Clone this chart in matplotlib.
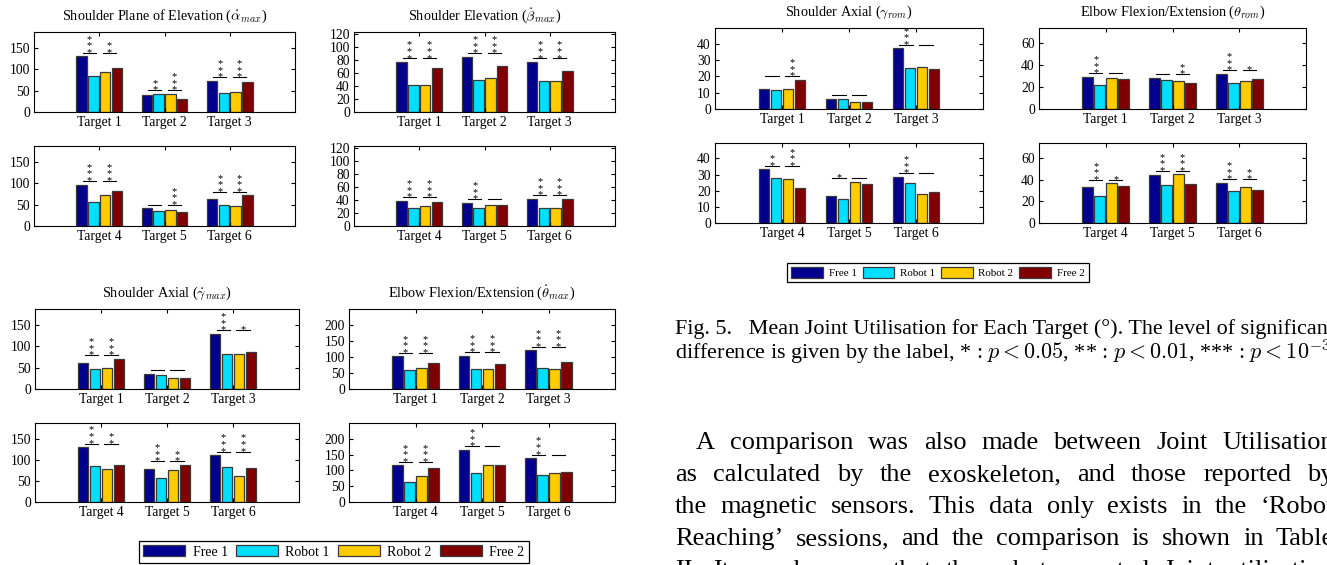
import matplotlib.pyplot as plt
import numpy as np

plt.rcParams['font.family'] = ['Liberation Serif', 'DejaVu Serif']
plt.rcParams['mathtext.fontset'] = 'cm'

W, H = 1327, 565

series = ['Free 1', 'Robot 1', 'Robot 2', 'Free 2']
colors = ['#00008f', '#00dfff', '#ffcc00', '#800000']
targets = ['Target 1', 'Target 2', 'Target 3', 'Target 4', 'Target 5', 'Target 6']

# rows: Free 1, Robot 1, Robot 2, Free 2 ; columns: Target 1..6
plane_elev = [[130, 39, 73, 97, 41, 64],
              [85, 42, 44, 57, 34, 50],
              [93, 43, 47, 72, 38, 47],
              [102, 30, 70, 81, 32, 72]]
plane_elev_sig = [(3, 2), (2, 3), (3, 3), (3, 3), (0, 3), (3, 3)]

elevation = [[77, 85, 77, 39, 36, 41],
             [41, 49, 48, 28, 27, 28],
             [41, 52, 47, 31, 33, 28],
             [68, 70, 63, 37, 32, 42]]
elevation_sig = [(3, 3), (3, 3), (3, 3), (3, 3), (3, 0), (3, 3)]

axial_vel = [[61, 36, 130, 131, 78, 112],
             [48, 33, 83, 86, 56, 84],
             [50, 25, 83, 79, 75, 61],
             [71, 27, 88, 89, 89, 82]]
axial_vel_sig = [(3, 3), (0, 0), (3, 1), (3, 2), (3, 2), (3, 3)]

elbow_vel = [[102, 104, 121, 116, 166, 139],
             [60, 64, 66, 64, 93, 86],
             [65, 62, 62, 83, 117, 91],
             [81, 77, 84, 108, 117, 95]]
elbow_vel_sig = [(3, 3), (3, 3), (3, 3), (3, 3), (3, 0), (3, 0)]

axial_rom = [[12.2, 6.0, 37.1, 33.4, 16.8, 28.8],
             [11.8, 6.2, 25.4, 27.6, 15.0, 25.1],
             [12.4, 4.3, 26.0, 27.0, 25.5, 18.2],
             [18.0, 4.1, 24.7, 21.5, 24.0, 19.1]]
axial_rom_sig = [(0, 3), (0, 0), (3, 0), (2, 3), (1, 0), (3, 0)]

elbow_rom = [[29.4, 28.5, 32.2, 33.1, 44.5, 37.4],
             [21.7, 26.3, 23.8, 24.7, 35.0, 29.7],
             [28.5, 26.0, 25.4, 36.8, 45.2, 33.4],
             [27.0, 23.8, 27.2, 34.0, 36.5, 30.9]]
elbow_rom_sig = [(3, 0), (0, 2), (3, 1), (3, 1), (3, 3), (3, 2)]

caption = [
    'Fig. 5.   Mean Joint Utilisation for Each Target (°). The level of significance of the',
    r'difference is given by the label, * : $p < 0.05$, ** : $p < 0.01$, *** : $p < 10^{-3}$',
]
body = [
    'A comparison was also made between Joint Utilisation',
    'as calculated by the exoskeleton, and those reported by',
    'the magnetic sensors. This data only exists in the \u2018Robot',
    'Reaching\u2019 sessions, and the comparison is shown in Table',
    'II. It can be seen that the robot reported Joint utilisation',
]

fig = plt.figure(figsize=(W / 100, H / 100), dpi=100)


def add_ax(x0, y0, x1, y1):
    return fig.add_axes([x0 / W, 1 - y1 / H, (x1 - x0) / W, (y1 - y0) / H])


def draw(ax, vals, sig, labels, ymax, yticks):
    vals = np.asarray(vals, dtype=float)
    pos = np.arange(1, 4)
    offs = [-0.27, -0.09, 0.09, 0.27]
    bars = []
    for k in range(4):
        bars.append(ax.bar(pos + offs[k], vals[k], width=0.16, color=colors[k],
                           edgecolor='#3a3a3a', linewidth=0.9, label=series[k]))
    for i, g in enumerate(pos):
        top = vals[:, i].max() + 0.043 * ymax
        for side, n in zip((-1, 1), sig[i]):
            xc = g + side * 0.15
            ax.plot([xc - 0.1, xc + 0.1], [top, top], color='k', lw=0.8)
            if n:
                # stacked asterisks, one text per stack
                ax.annotate('\n'.join('*' * n), (xc, top), xytext=(0, -3.0),
                            textcoords='offset points', ha='center', va='bottom',
                            fontsize=7.5, linespacing=0.66)
    ax.set_xlim(0, 4)
    ax.set_ylim(0, ymax)
    ax.set_xticks(pos, labels)
    ax.set_yticks(yticks)
    ax.tick_params(direction='in', top=True, right=True, length=3,
                   labelsize=9.8, pad=3)
    for sp in ax.spines.values():
        sp.set_linewidth(0.8)
    return bars


panels = [
    (plane_elev, plane_elev_sig, r'Shoulder Plane of Elevation ($\dot{\alpha}_{max}$)',
     187, [0, 50, 100, 150], (34, 32, 295, 112), (34, 146, 295, 226)),
    (elevation, elevation_sig, r'Shoulder Elevation ($\dot{\beta}_{max}$)',
     123, [0, 20, 40, 60, 80, 100, 120], (354, 32, 615, 112), (354, 146, 615, 226)),
    (axial_vel, axial_vel_sig, r'Shoulder Axial ($\dot{\gamma}_{max}$)',
     188, [0, 50, 100, 150], (35, 309, 299, 389), (35, 423, 299, 502)),
    (elbow_vel, elbow_vel_sig, r'Elbow Flexion/Extension ($\dot{\theta}_{max}$)',
     250, [0, 50, 100, 150, 200], (349, 309, 615, 389), (349, 423, 615, 502)),
    (axial_rom, axial_rom_sig, r'Shoulder Axial ($\gamma_{rom}$)',
     49.6, [0, 10, 20, 30, 40], (715, 28, 983, 109), (715, 143, 983, 223)),
    (elbow_rom, elbow_rom_sig, r'Elbow Flexion/Extension ($\theta_{rom}$)',
     74, [0, 20, 40, 60], (1039, 28, 1306, 109), (1039, 143, 1306, 223)),
]

handles = None
for vals, sig, title, ymax, yticks, r_top, r_bot in panels:
    v = np.asarray(vals)
    ax1 = add_ax(*r_top)
    bars = draw(ax1, v[:, :3], sig[:3], targets[:3], ymax, yticks)
    ax1.set_title(title, fontsize=10.3, pad=9)
    ax2 = add_ax(*r_bot)
    draw(ax2, v[:, 3:], sig[3:], targets[3:], ymax, yticks)
    if handles is None:
        handles = bars

leg_kw = dict(loc='center', ncol=4, fancybox=False, edgecolor='k', framealpha=1,
              borderpad=0.35)
leg1 = fig.legend(handles, series, bbox_to_anchor=(334 / W, 1 - 552 / H),
                  fontsize=10, handlelength=3.0, handleheight=0.8,
                  handletextpad=0.55, columnspacing=0.6, **leg_kw)
leg2 = fig.legend(handles, series, bbox_to_anchor=(938 / W, 1 - 272.5 / H),
                  fontsize=7.9, handlelength=2.9, handleheight=1.15,
                  handletextpad=0.5, columnspacing=0.55, **leg_kw)
for leg in (leg1, leg2):
    leg.get_frame().set_linewidth(0.9)

# caption
for line, y in zip(caption, [334, 358]):
    fig.text(675 / W, 1 - y / H, line, fontsize=15.9, va='baseline', ha='left')

# justified body text
renderer = fig.canvas.get_renderer()
right_edge = 1334
for idx, line in enumerate(body):
    x0 = 696 if idx == 0 else 675
    y = 449 + 32 * idx
    words = line.split()
    texts = [fig.text(0, 1 - y / H, w, fontsize=19, va='baseline', ha='left') for w in words]
    widths = [t.get_window_extent(renderer).width for t in texts]
    gap = (right_edge - x0 - sum(widths)) / (len(words) - 1)
    x = x0
    for t, w in zip(texts, widths):
        t.set_x(x / W)
        x += w + gap

fig.savefig('out.png', dpi=100)
